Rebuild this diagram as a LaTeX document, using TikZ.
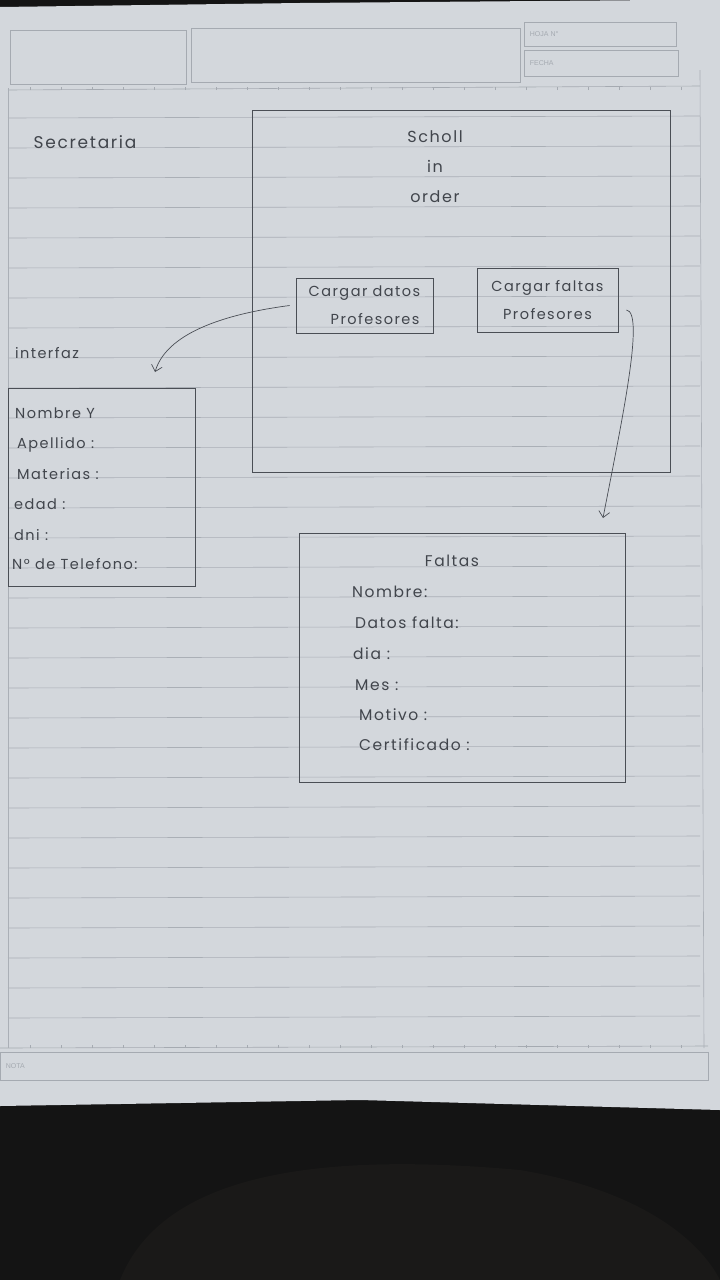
\documentclass[tikz,border=0pt]{standalone}
\usepackage{fontspec}
\setmainfont{Poppins}[LetterSpace=10]
\newfontfamily\hdrfont{Liberation Sans}
\usetikzlibrary{arrows.meta}
\definecolor{bgdark}{HTML}{141414}
\definecolor{bgfold}{HTML}{1A1918}
\definecolor{paper}{HTML}{D3D7DC}
\definecolor{rule}{HTML}{AAAFB6}
\definecolor{hdr}{HTML}{A5AAB1}
\definecolor{pen}{HTML}{4A4E55}
\definecolor{ink}{HTML}{41454C}
\tikzset{
  hw/.style={text=ink, font=\fontsize{14.5}{28}\selectfont, inner sep=0pt},
  box/.style={hw, draw=pen, line width=0.8pt, rectangle},
  hbox/.style={draw=hdr, line width=0.6pt, rectangle, inner sep=0pt},
  item/.style={hw, anchor=base west},
  hdrtxt/.style={text=hdr, font=\hdrfont\fontsize{7}{8}\selectfont, inner sep=0pt, anchor=west},
  arr/.style={draw=pen, line width=0.7pt, -{Straight Barb[length=6pt,width=11pt]}},
  ruleline/.style={draw=rule, line width=0.6pt}
}
\begin{document}
\begin{tikzpicture}[x=1pt,y=-1pt]
\useasboundingbox (0,0) rectangle (720,1280);
% background
\fill[bgdark] (0,0) rectangle (720,1280);
\fill[bgfold] (120,1280) .. controls (160,1180) and (300,1150) .. (520,1170) .. controls (640,1190) and (700,1240) .. (720,1280) -- cycle;
% paper
\fill[paper] (0,7) -- (300,3) -- (660,0) -- (720,0) -- (720,1110) -- (360,1100) -- (0,1106) -- cycle;
% ruled lines
\foreach \k in {1,...,31} {
  \draw[ruleline] (8,{88+30*\k}) -- (700,{86+30*\k});
}
% tick lines
\draw[hdr, line width=0.6pt] (8,90) -- (700,86);
\foreach \t in {0,...,21} { \draw[hdr, line width=0.5pt] ({30+31*\t},90) -- ++(0,-3); }
\draw[hdr, line width=0.6pt] (0,1048) -- (708,1046);
\foreach \t in {0,...,21} { \draw[hdr, line width=0.5pt] ({30+31*\t},1048) -- ++(0,-3); }
% margins
\draw[ruleline] (8,88) -- (8,1048);
\draw[ruleline] (700,70) -- (704,1048);
% header boxes
\node[hbox, minimum width=176pt, minimum height=54pt] (h1) at (98,57) {};
\node[hbox, minimum width=329pt, minimum height=54pt] (h2) at (355.5,55) {};
\node[hbox, minimum width=152pt, minimum height=24pt] (h3) at (600,34) {};
\node[hbox, minimum width=154pt, minimum height=26pt] (h4) at (601,63) {};
\node[hdrtxt] (hoja) at ([xshift=6pt]h3.west) {HOJA N°};
\node[hdrtxt] (fecha) at ([xshift=6pt]h4.west) {FECHA};
\node[hbox, minimum width=708pt, minimum height=28pt] (nota) at (354,1066) {};
\node[hdrtxt] (notat) at ([xshift=6pt]nota.west) {NOTA};
% labels
\node[hw, font=\fontsize{17}{20}\selectfont] (sec) at (85,142) {Secretaria};
\node[hw] (intf) at (47,353) {interfaz};
% main app box
\node[box, minimum width=418pt, minimum height=362pt] (app) at (461,291) {};
\node[hw, align=center, font=\fontsize{16}{30}\selectfont] (title) at (435,167) {Scholl\\in\\order};
\node[box, minimum width=137pt, minimum height=55pt, align=left] (cd) at (364.5,305.5) {Cargar datos\\\hspace*{22pt}Profesores};
\node[box, minimum width=141pt, minimum height=64pt, align=center] (cf) at (547.5,300) {Cargar faltas\\Profesores};
% interfaz box
\node[box, minimum width=187pt, minimum height=198pt] (ib) at (101.5,487) {};
\node[item] (i1) at (15,418) {Nombre Y};
\node[item] (i2) at (17,448) {Apellido :};
\node[item] (i3) at (17,479) {Materias :};
\node[item] (i4) at (14,509) {edad :};
\node[item] (i5) at (14,540) {dni :};
\node[item] (i6) at (12,569) {N° de Telefono:};
% faltas box
\node[box, minimum width=326pt, minimum height=249pt] (fb) at (462,657.5) {};
\node[hw, font=\fontsize{15.5}{20}\selectfont] (ft) at (452,561) {Faltas};
\node[item, font=\fontsize{15.5}{20}\selectfont] (f1) at (352,597) {Nombre:};
\node[item, font=\fontsize{15.5}{20}\selectfont] (f2) at (355,628) {Datos falta:};
\node[item, font=\fontsize{15.5}{20}\selectfont] (f3) at (353,659) {dia :};
\node[item, font=\fontsize{15.5}{20}\selectfont] (f4) at (355,690) {Mes :};
\node[item, font=\fontsize{15.5}{20}\selectfont] (f5) at (359,720) {Motivo :};
\node[item, font=\fontsize{15.5}{20}\selectfont] (f6) at (359,750) {Certificado :};
% connectors
\coordinate (a1) at (155,372);
\coordinate (a2) at (603,518);
\draw[arr] ([xshift=-6pt]cd.west) .. controls (240,312) and (168,328) .. (a1);
\draw[arr] ([xshift=8pt,yshift=-10pt]cf.east) .. controls (645,312) and (622,420) .. (a2);
\end{tikzpicture}
\end{document}
